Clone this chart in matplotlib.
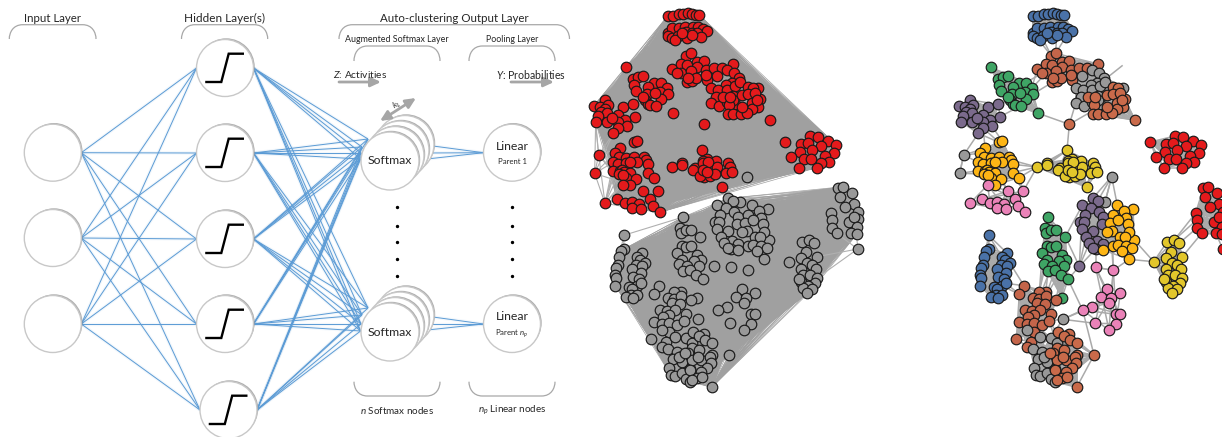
import matplotlib
matplotlib.use("Agg")
import matplotlib.pyplot as plt
from itertools import combinations
from matplotlib.collections import LineCollection
from matplotlib.patches import Circle, PathPatch
from matplotlib.path import Path

plt.rcParams['font.family'] = ['Lato', 'DejaVu Sans']
plt.rcParams['mathtext.fontset'] = 'custom'
plt.rcParams['mathtext.rm'] = 'Lato'
plt.rcParams['mathtext.it'] = 'Lato:italic'

# Left panel: neuron positions in pixels
input_nodes = [(52.8, 152.7), (52.8, 238), (52.8, 324)]
hidden_nodes = [(225, 68), (225, 153), (225, 239), (225, 324), (228.5, 410)]
softmax_nodes = [(390, 161), (390, 332)]
linear_nodes = [(512, 152.7), (512, 324)]
softmax_in = [[(368, 139), (362, 147), (361, 153), (360.6, 159)],
              [(368, 308), (362, 315), (361, 324), (360.6, 331)]]
softmax_out = [[(433, 146), (426, 153), (418, 160)],
               [(433, 317), (426, 324), (418, 331)]]
sigmoid_dx = [-18.6, -3.7, 3.7, 17.8]
sigmoid_dy = [14, 14, -14.3, -14.3]
dots_y = [207, 226, 242, 259, 276]

# Network nodes at 3x, y taken from the top
blue_a = [(278, 48), (295, 48), (312, 42), (325, 42), (338, 40), (352, 42), (362, 44), (373, 45),
          (278, 98), (290, 85), (311, 85), (331, 80), (353, 80), (370, 82), (385, 88), (396, 92),
          (278, 108), (292, 115), (310, 108), (333, 97), (352, 100), (366, 100), (378, 110),
          (335, 115), (300, 120), (350, 105), (320, 100)]
brown_a = [(334, 167), (347, 160), (292, 207), (318, 192), (336, 195), (365, 187), (386, 182),
           (367, 200), (318, 220), (347, 213), (393, 211), (417, 203), (442, 203), (335, 245),
           (350, 243), (362, 235), (306, 220), (340, 235), (395, 240), (393, 225), (475, 192)]
brown_b = [(520, 262), (535, 265), (500, 285), (518, 282), (555, 298), (540, 280), (445, 292),
           (530, 310), (548, 322), (463, 315), (530, 327), (458, 342), (475, 342), (497, 342),
           (517, 340), (500, 320), (545, 300), (585, 360), (465, 290)]
brown_hub = [(388, 373)]
gray_a = [(456, 210), (478, 220), (492, 235), (470, 250), (452, 255), (408, 263), (430, 270),
          (455, 270), (480, 258), (422, 290), (473, 288), (407, 310), (432, 318), (480, 312),
          (455, 305), (548, 265), (425, 228), (495, 247), (475, 300)]
green_a = [(153, 202), (175, 237), (190, 230), (203, 228), (178, 255), (183, 272), (236, 250),
           (257, 248), (220, 260), (275, 265), (255, 275), (215, 283), (278, 283), (258, 296),
           (210, 300), (218, 312), (225, 315), (243, 317), (295, 340), (205, 290), (240, 280)]
purple_a = [(90, 300), (56, 318), (75, 320), (100, 315), (90, 328), (78, 335), (95, 340), (70, 348),
            (143, 320), (175, 313), (130, 345), (180, 350), (62, 365), (95, 365), (150, 360),
            (130, 365), (155, 377), (130, 385), (115, 400), (110, 355)]
orange_a = [(177, 427), (187, 424), (135, 445), (120, 460), (133, 472), (153, 473), (178, 470),
            (208, 472), (213, 480), (115, 487), (128, 492), (153, 490), (185, 487), (165, 487),
            (220, 493), (115, 512), (135, 513), (140, 510), (148, 516), (165, 520), (218, 518),
            (132, 522), (152, 535), (184, 538), (237, 533), (165, 555), (143, 525)]
gray_left = [(71, 465), (59, 520)]
yellow_a = [(381, 451), (291, 501), (321, 488), (321, 495), (395, 478), (385, 482), (423, 483),
            (360, 505), (355, 510), (385, 490), (405, 505), (425, 500), (460, 490), (464, 502),
            (453, 520), (470, 517), (388, 530), (405, 528), (420, 522), (375, 528), (440, 562),
            (400, 485), (385, 510), (395, 515)]
red_a = [(631, 426), (705, 408), (730, 411), (760, 424), (783, 434), (677, 433), (698, 428),
         (737, 438), (676, 456), (710, 450), (777, 458), (751, 467), (648, 471), (686, 478),
         (709, 476), (762, 485), (672, 503), (738, 490), (726, 503)]
pink_a = [(143, 555), (205, 573), (250, 573), (126, 598), (150, 610), (170, 605),
          (193, 613), (225, 598), (235, 618), (170, 625), (198, 627), (254, 637)]
pink_corner = [(90, 610)]

gray_single = [(515, 530), (495, 607), (368, 958)]
purple_b = [(458, 595), (473, 603), (427, 616), (453, 623), (478, 637), (435, 645), (490, 650),
            (420, 665), (432, 665), (485, 672), (427, 688), (460, 692), (437, 712), (472, 723),
            (448, 730), (490, 732), (467, 747), (458, 745)]
purple_hub = [(418, 799)]
orange_b = [(532, 616), (579, 627), (518, 644), (552, 633), (558, 653), (510, 668), (535, 660),
            (565, 672), (583, 720), (515, 693), (540, 712), (566, 697), (500, 695), (555, 710),
            (518, 737), (535, 735), (558, 738), (576, 745), (546, 753), (490, 750), (567, 778)]
yellow_b = [(641, 785), (682, 725), (703, 720), (717, 730), (692, 755), (727, 770), (677, 775),
            (695, 790), (710, 795), (723, 808), (677, 807), (683, 825), (705, 825), (725, 835),
            (720, 848), (678, 845), (700, 858), (683, 865), (712, 868), (697, 878), (672, 837)]
green_b = [(325, 651), (315, 683), (318, 700), (333, 690), (347, 690), (376, 710), (322, 738),
           (333, 740), (347, 738), (307, 759), (367, 764), (378, 780), (356, 783), (320, 781),
           (311, 793), (373, 797), (335, 798), (325, 812), (345, 810), (362, 825), (384, 838),
           (366, 893)]
blue_b = [(147, 747), (137, 753), (133, 772), (128, 795), (123, 805), (120, 825),
          (122, 835), (121, 857), (202, 760), (185, 770), (194, 780), (210, 790), (183, 795),
          (200, 798), (170, 808), (197, 818), (175, 830), (192, 837), (187, 858), (198, 850),
          (162, 860), (170, 866), (167, 885), (152, 890), (185, 885), (175, 895)]
blue_corner = [(146, 706)]
brown_c = [(252, 857), (238, 883), (317, 875), (298, 875), (278, 895), (296, 898), (317, 889),
           (348, 901), (290, 908), (315, 913), (255, 931), (275, 932), (300, 930), (332, 942),
           (282, 945), (265, 950), (238, 966), (262, 971), (282, 968), (305, 976), (327, 962),
           (283, 995), (229, 1017), (272, 1025), (262, 1040)]
brown_d = [(355, 995), (388, 1002), (372, 1007), (390, 1020), (410, 1030), (462, 1065), (350, 1045),
           (372, 1050), (340, 1060), (410, 1065), (378, 1080), (405, 1070), (408, 1088), (350, 1080),
           (395, 1105), (378, 1115), (345, 1110), (365, 1135), (350, 1140), (380, 1132), (410, 1162),
           (370, 1070), (330, 1060)]
gray_b = [(262, 990), (300, 1010), (332, 1015), (368, 1025), (280, 1047), (305, 1057), (320, 1067),
          (295, 1077), (322, 1086), (283, 1105), (287, 1125), (300, 1127), (322, 1118), (345, 1106),
          (332, 1137), (345, 1145), (312, 1070), (350, 1030)]
pink_b = [(467, 802), (520, 811), (500, 867), (541, 879), (482, 890), (512, 893), (508, 908),
          (457, 920), (428, 930), (528, 943), (540, 942), (466, 970), (528, 971), (507, 991)]
red_b = [(790, 565), (805, 560), (830, 578), (795, 590), (838, 612), (810, 622), (848, 635),
         (850, 658), (823, 667), (837, 650), (845, 680), (827, 698), (845, 703), (767, 639),
         (770, 660), (772, 683), (785, 700)]
red_corner = [(848, 747)]

# Links between groups on the right panel
bridges = [((388, 373), (295, 340)), ((388, 373), (407, 310)), ((388, 373), (445, 340)),
           ((388, 373), (381, 451)), ((295, 340), (230, 300)), ((295, 340), (260, 290)),
           ((548, 196), (480, 250)), ((275, 265), (318, 220)), ((278, 283), (340, 245)),
           ((257, 248), (306, 220)), ((275, 265), (292, 207)), ((310, 120), (334, 167)),
           ((350, 105), (347, 160)), ((378, 110), (347, 160)), ((292, 115), (334, 167)),
           ((175, 313), (215, 300)), ((180, 350), (243, 317)), ((115, 400), (177, 427)),
           ((155, 377), (187, 424)), ((130, 385), (135, 445)), ((130, 385), (177, 427)),
           ((115, 400), (71, 465)), ((71, 465), (135, 445)), ((71, 465), (115, 487)),
           ((59, 520), (115, 512)), ((59, 520), (71, 465)), ((59, 520), (132, 522)),
           ((71, 465), (120, 460)), ((291, 501), (213, 480)), ((291, 501), (220, 493)),
           ((291, 501), (237, 533)), ((291, 501), (218, 518)), ((291, 501), (250, 573)),
           ((143, 555), (152, 535)), ((205, 573), (165, 520)), ((250, 573), (237, 533)),
           ((250, 573), (218, 518)), ((205, 573), (184, 538)), ((515, 530), (532, 616)),
           ((515, 530), (458, 595)), ((515, 530), (495, 607)), ((515, 530), (473, 603)),
           ((641, 785), (567, 778)), ((641, 785), (583, 720)), ((727, 770), (785, 700)),
           ((703, 720), (767, 639)), ((717, 730), (772, 683)), ((703, 720), (770, 660)),
           ((567, 778), (520, 811)), ((520, 811), (518, 737)), ((467, 802), (520, 811)),
           ((418, 799), (427, 616)), ((418, 799), (437, 712)), ((418, 799), (448, 730)),
           ((418, 799), (467, 747)), ((418, 799), (384, 838)), ((467, 802), (467, 747)),
           ((520, 811), (510, 668)), ((384, 838), (428, 930)), ((428, 930), (368, 958)),
           ((428, 930), (462, 1065)), ((368, 958), (466, 970)), ((368, 958), (457, 920)),
           ((462, 1065), (410, 1065)), ((376, 710), (325, 651)), ((376, 710), (427, 616)),
           ((376, 710), (418, 799)), ((311, 793), (298, 875)), ((325, 812), (317, 875)),
           ((345, 810), (317, 889)), ((362, 825), (348, 901)), ((384, 838), (348, 901)),
           ((373, 797), (317, 889)), ((307, 759), (298, 875)), ((320, 781), (290, 908)),
           ((335, 798), (296, 898)), ((210, 790), (252, 857)), ((187, 858), (238, 883)),
           ((198, 850), (252, 857)), ((198, 850), (238, 883)), ((300, 930), (300, 1010)),
           ((282, 968), (332, 1015)), ((327, 962), (368, 1025)), ((327, 962), (350, 1030)),
           ((368, 958), (327, 962)), ((368, 958), (332, 1015)), ((262, 1040), (280, 1047)),
           ((410, 1162), (345, 1145)), ((445, 292), (422, 290)), ((393, 225), (408, 263)),
           ((442, 203), (456, 210)), ((417, 203), (425, 228)), ((475, 192), (478, 220)),
           ((90, 610), (126, 598)), ((90, 610), (143, 555)), ((90, 610), (150, 610)),
           ((90, 610), (170, 625)), ((146, 706), (147, 747)), ((146, 706), (202, 760)),
           ((146, 706), (133, 772)), ((146, 706), (185, 770)), ((848, 747), (827, 698))]

# A few thin links from the corner nodes in the middle panel
mid_links = [((146, 706), (325, 651)), ((146, 706), (147, 747)), ((146, 706), (137, 753)),
             ((848, 747), (785, 700)), ((848, 747), (727, 770)), ((848, 747), (725, 835)),
             ((848, 747), (845, 703)), ((90, 610), (59, 520)), ((90, 610), (71, 465)),
             ((90, 610), (115, 512)), ((90, 610), (115, 487)), ((90, 610), (128, 492)),
             ((90, 610), (135, 445)), ((90, 610), (132, 522)), ((90, 610), (126, 598)),
             ((90, 610), (254, 637)), ((90, 610), (143, 555)), ((90, 610), (152, 535)),
             ((59, 520), (71, 465)), ((59, 520), (115, 487)), ((59, 520), (135, 445)),
             ((59, 520), (62, 365)), ((59, 520), (115, 400)), ((59, 520), (165, 555)),
             ((71, 465), (62, 365)), ((71, 465), (56, 318)), ((71, 465), (115, 400)),
             ((71, 465), (135, 445)), ((71, 465), (115, 512)), ((71, 465), (143, 555))]

# (nodes, colour on right panel, link stride inside the group)
groups = [
    (blue_a, '#4a72a8', 1), (brown_a, '#c4654a', 1), (gray_a, '#999999', 1), (brown_b, '#c96a4a', 1),
    (brown_hub, '#c96a4a', 1), (green_a, '#3fa565', 1), (purple_a, '#7b6a8c', 1), (orange_a, '#fdb515', 1),
    (gray_left, '#999999', 1), (yellow_a, '#e2c62b', 1), (red_a, '#e41a1c', 1), (pink_a, '#ea82b8', 3),
    (pink_corner, '#ea82b8', 1), (gray_single, '#999999', 99), (purple_b, '#7b6a8c', 1),
    (purple_hub, '#7b6a8c', 1), (orange_b, '#fdb515', 1), (yellow_b, '#e2c62b', 1), (green_b, '#3fa565', 1),
    (blue_b, '#4a72a8', 1), (blue_corner, '#4a72a8', 1), (brown_c, '#c4654a', 1), (gray_b, '#999999', 1),
    (brown_d, '#c96a4a', 1), (pink_b, '#ea82b8', 4), (red_b, '#e41a1c', 1), (red_corner, '#e41a1c', 1),
]
mid_upper = blue_a + brown_a + gray_a + brown_b + brown_hub + green_a + purple_a + orange_a \
    + yellow_a + red_a + pink_a
mid_upper_corner = gray_left + pink_corner
mid_lower = gray_single[1:] + purple_b + purple_hub + orange_b + yellow_b + green_b + blue_b + brown_c \
    + gray_b + brown_d + pink_b + red_b
mid_lower_corner = blue_corner + red_corner + gray_single[:1]

MID_X0 = 575
RIGHT_X0 = 940
BLUE = '#5b9bd5'


def net(points, x0):
    return [(x0 + x / 3, y / 3) for x, y in points]


def draw_links(ax, points, x0, color='#a0a0a0', lw=0.5, stride=1):
    pairs = list(combinations(net(points, x0), 2))[::stride]
    if pairs:
        ax.add_collection(LineCollection(pairs, colors=color, linewidths=lw, zorder=2))


def draw_nodes(ax, points, x0, color):
    xy = net(points, x0)
    ax.scatter([p[0] for p in xy], [p[1] for p in xy], s=58, c=color, edgecolors='#1a1a1a',
               linewidths=0.85, zorder=3)


def neuron(ax, x, y, r=28.5, z=5):
    ax.add_patch(Circle((x + 1.2, y - 1.2), r, fc='#8c8c8c', ec='none', alpha=0.7, zorder=z))
    ax.add_patch(Circle((x, y), r, fc='white', ec='#c8c8c8', lw=1.0, zorder=z))


def bracket(ax, x0, x1, y0, y1):
    # y0 is the open end, y1 the flat side
    c = 9
    s = 1 if y1 > y0 else -1
    verts = [(x0, y0), (x0, y1 - s * 8), (x0 + c * 0.4, y1), (x0 + c * 1.5, y1), (x1 - c * 1.5, y1),
             (x1 - c * 0.4, y1), (x1, y1 - s * 8), (x1, y0)]
    codes = [Path.MOVETO, Path.CURVE4, Path.CURVE4, Path.CURVE4, Path.LINETO, Path.CURVE4, Path.CURVE4, Path.CURVE4]
    ax.add_patch(PathPatch(Path(verts, codes), fc='none', ec='#a8a8a8', lw=0.9, zorder=4))


def gray_arrow(ax, p0, p1, style='-|>'):
    ax.annotate('', xy=p1, xytext=p0, zorder=6,
                arrowprops=dict(arrowstyle=style + ',head_width=0.28,head_length=0.6', color='#a6a6a6', lw=2,
                                shrinkA=0, shrinkB=0))


fig = plt.figure(figsize=(12.22, 4.37), dpi=100)
ax = fig.add_axes([0, 0, 1, 1])
ax.set_xlim(0, 1222)
ax.set_ylim(437, 0)
ax.axis('off')

# left panel links
left_links = []
for a in input_nodes:
    for b in hidden_nodes:
        left_links.append(((a[0] + 28.5, a[1]), (b[0] - 28.5, b[1])))
for b in hidden_nodes:
    for targets in softmax_in:
        for t in targets:
            left_links.append(((b[0] + 28.5, b[1]), t))
for lin, sources in zip(linear_nodes, softmax_out):
    for s in sources:
        left_links.append((s, (lin[0] - 28.5, lin[1])))
ax.add_collection(LineCollection(left_links, colors=BLUE, linewidths=2.4, alpha=0.08, zorder=1))
ax.add_collection(LineCollection(left_links, colors=BLUE, linewidths=0.7, zorder=4))

for n in input_nodes + hidden_nodes + linear_nodes:
    neuron(ax, n[0], n[1])
for n in hidden_nodes:
    ax.plot([n[0] + d for d in sigmoid_dx], [n[1] + d for d in sigmoid_dy], color='black', lw=1.7, zorder=6,
            solid_joinstyle='miter')
for n in softmax_nodes:
    for k in (3, 2, 1):
        neuron(ax, n[0] + 5 * k, n[1] - 5.5 * k, r=29, z=5)
    neuron(ax, n[0], n[1], r=29, z=5)

for x in (397, 512):
    ax.scatter([x] * len(dots_y), dots_y, s=2, c='black', zorder=6)

bracket(ax, 9.3, 96, 39, 24.7)
bracket(ax, 181.5, 267.7, 39, 24.7)
bracket(ax, 339, 569.5, 39, 24.7)
bracket(ax, 354, 440, 61, 46)
bracket(ax, 469, 555, 61, 46)
bracket(ax, 354, 440, 381.7, 396)
bracket(ax, 469, 555, 381.7, 396)

gray_arrow(ax, (339, 82), (381, 82))
gray_arrow(ax, (511, 82), (554, 82))
gray_arrow(ax, (380, 121), (416, 98), style='<|-|>')

txt = dict(ha='center', va='center', color='#262626', zorder=7)
ax.text(52.4, 18, 'Input Layer', fontsize=8.3, **txt)
ax.text(225, 18, 'Hidden Layer(s)', fontsize=8.5, **txt)
ax.text(454.5, 18, 'Auto-clustering Output Layer', fontsize=8.3, **txt)
ax.text(397, 39, 'Augmented Softmax Layer', fontsize=6.4, **txt)
ax.text(512, 39, 'Pooling Layer', fontsize=6.3, **txt)
ax.text(360, 74.5, '$Z$: Activities', fontsize=7.4, **txt)
ax.text(531, 74.5, '$Y$: Probabilities', fontsize=7.6, **txt)
ax.text(397.5, 105, '$k_1$', fontsize=6, rotation=30, **txt)
for y in (161, 332):
    ax.text(390, y, 'Softmax', fontsize=8.8, **txt)
ax.text(512, 146, 'Linear', fontsize=8.8, **txt)
ax.text(512, 162, 'Parent 1', fontsize=5.6, **txt)
ax.text(512, 317, 'Linear', fontsize=8.8, **txt)
ax.text(512, 334, 'Parent $n_p$', fontsize=5.6, **txt)
ax.text(397, 410.5, '$n$ Softmax nodes', fontsize=7.1, **txt)
ax.text(512, 410.5, '$n_p$ Linear nodes', fontsize=7.1, **txt)

# middle panel: two dense components
draw_links(ax, mid_upper, MID_X0)
draw_links(ax, mid_lower, MID_X0)
ax.add_collection(LineCollection([net(pair, MID_X0) for pair in mid_links], colors='#b0b0b0', linewidths=0.8, zorder=2))
draw_nodes(ax, mid_upper + mid_upper_corner, MID_X0, '#e41a1c')
draw_nodes(ax, mid_lower + mid_lower_corner, MID_X0, '#999999')

# right panel: same layout, coloured by cluster
for points, color, stride in groups:
    draw_links(ax, points, RIGHT_X0, color='#aaaaaa', lw=1.1, stride=stride)
ax.add_collection(LineCollection([net(pair, RIGHT_X0) for pair in bridges], colors='#aaaaaa', linewidths=1.1, zorder=2))
for points, color, stride in groups:
    draw_nodes(ax, points, RIGHT_X0, color)

fig.savefig('out.png', dpi=100)
